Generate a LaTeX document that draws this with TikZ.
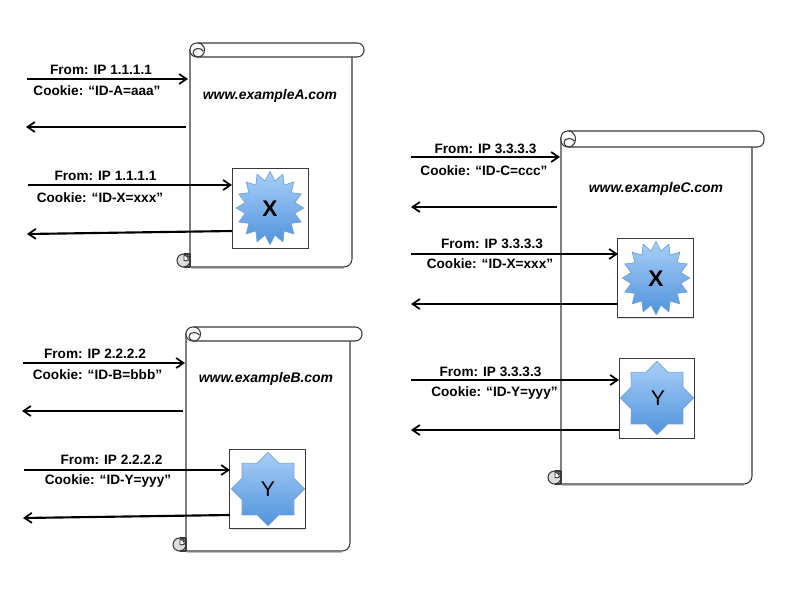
\documentclass[tikz,border=0pt]{standalone}
\usepackage{fontspec}
\setmainfont{Liberation Sans}
\usetikzlibrary{arrows.meta,shapes.geometric,shadows}
\definecolor{edgeC}{HTML}{3A3A3A}
\definecolor{starTop}{HTML}{A9CEF7}
\definecolor{starBot}{HTML}{4F93DD}
\definecolor{starEdge}{HTML}{6FA3DC}
\definecolor{curlC}{HTML}{DDDDDD}
\tikzset{
  x=0.75pt,y=-0.75pt,
  scrollline/.style={draw=edgeC,line width=0.8pt,line join=round},
  scrollshadow/.style={draw=black!25,line width=0.9pt},
  msg/.style={-{Straight Barb[length=5.5pt,width=7.5pt,line width=1.3pt]},line width=1.6pt,black},
  label/.style={font=\bfseries\fontsize{10.2pt}{12pt}\selectfont,inner sep=0pt,text=black,anchor=base},
  site/.style={font=\bfseries\itshape\fontsize{10.45pt}{12pt}\selectfont,inner sep=0pt,anchor=base},
  iconbox/.style={draw=edgeC,fill=white,line width=0.8pt,minimum width=56.5pt,minimum height=59.5pt,inner sep=0pt,outer sep=0pt,
    drop shadow={shadow xshift=0pt,shadow yshift=-0.8pt,opacity=0.25}},
  burst/.style={star,star points=16,star point ratio=1.33,minimum size=55pt,inner sep=0pt,top color=starTop,bottom color=starBot,draw=starEdge,line width=0.5pt,xscale=0.92,transform shape},
  octa/.style={star,star points=8,star point ratio=1.307,minimum size=55pt,inner sep=0pt,top color=starTop,bottom color=starBot,draw=starEdge,line width=0.5pt},
  letterX/.style={font=\bfseries\fontsize{17pt}{17pt}\selectfont,inner sep=0pt},
  letterY/.style={font=\fontsize{16pt}{16pt}\selectfont,inner sep=0pt},
}
% #1 left, #2 top, #3 right, #4 bottom, #5 roll bottom
\newcommand{\scrollpage}[5]{%
  \pgfmathsetmacro{\rr}{(#5-#2)/2}%
  \draw[scrollshadow] (#1+1,#4+1.2) -- (#3-8,#4+1.2);
  % body
  \draw[scrollline,fill=white] (#3,#5) -- (#3,#4-8) .. controls (#3,#4-3.6) and (#3-3.6,#4) .. (#3-8,#4) -- (#1,#4) -- (#1,#2+6);
  % roll
  \draw[scrollline,fill=white,rounded corners=5pt] (#1,#5) rectangle (#3+12,#2);
  \draw[scrollline] (#1+8,#2) .. controls (#1+11.6,#2) and (#1+14.5,#2+\rr-3.8) .. (#1+14.5,#2+\rr)
     .. controls (#1+14.5,#2+\rr+3.8) and (#1+11.6,#5) .. (#1+8,#5)
     .. controls (#1+5,#5) and (#1+3,#5-2) .. (#1+3,#5-4.5)
     .. controls (#1+3,#5-7) and (#1+5,#5-8.5) .. (#1+8,#5-8.5)
     .. controls (#1+10.5,#5-8.5) and (#1+12.5,#5-7.5) .. (#1+13,#5-6);
  % bottom curl
  \draw[scrollline,fill=curlC] (#1-6.5,#4-6.5) circle [radius=6.5];
  \draw[edgeC,line width=0.7pt,fill=white] (#1-6,#4-6.5) -- (#1-6,#4-12) .. controls (#1-3,#4-12) and (#1-1.5,#4-9) .. (#1-1.5,#4-7) .. controls (#1-3,#4-6) and (#1-5,#4-6) .. cycle;
  \fill[white] (#1-6.3,#4-13.8) rectangle (#1-0.6,#4-12.2);
  \draw[scrollline] (#1-6.5,#4-13) -- (#1,#4-13);
  \draw[scrollline] (#1-6.5,#4) -- (#1,#4);
  \draw[scrollline] (#1,#4) -- (#1,#4-13);
}
\begin{document}
\begin{tikzpicture}
\useasboundingbox (0,0) rectangle (792,612);

% ---- scroll A
\scrollpage{190}{43}{352}{267}{57}
\node[site] (titleA) at (270,99) {www.exampleA.com};
\node[iconbox] (boxAX) at (270.5,208.5) {};
\node[burst] (starAX) at (270,208) {};
\node[letterX] (letAX) at (270,209) {X};
\node[label] (a1) at (101,74) {From: IP 1.1.1.1};
\node[label] (a2) at (97,95) {Cookie: “ID-A=aaa”};
\node[label] (a3) at (105.5,180) {From: IP 1.1.1.1};
\node[label] (a4) at (100,202) {Cookie: “ID-X=xxx”};
\coordinate (a1s) at (27,79);  \coordinate (a1e) at (188,79);
\coordinate (a2s) at (186,127); \coordinate (a2e) at (26,127);
\coordinate (a3s) at (28,185); \coordinate (a3e) at (232,185);
\coordinate (a4s) at (232,231); \coordinate (a4e) at (27,234);
\draw[msg] (a1s) -- (a1e);
\draw[msg] (a2s) -- (a2e);
\draw[msg] (a3s) -- (a3e);
\draw[msg] (a4s) -- (a4e);

% ---- scroll B
\scrollpage{186}{327}{350}{551}{341}
\node[site] (titleB) at (266,382) {www.exampleB.com};
\node[iconbox] (boxBY) at (267.5,489) {};
\node[octa] (starBY) at (268,489) {};
\node[letterY] (letBY) at (268,489) {Y};
\node[label] (b1) at (95,358) {From: IP 2.2.2.2};
\node[label] (b2) at (97.5,379) {Cookie: “ID-B=bbb”};
\node[label] (b3) at (111.5,464) {From: IP 2.2.2.2};
\node[label] (b4) at (108,484) {Cookie: “ID-Y=yyy”};
\coordinate (b1s) at (23,363);  \coordinate (b1e) at (185,363);
\coordinate (b2s) at (183,411); \coordinate (b2e) at (22,411);
\coordinate (b3s) at (24,470); \coordinate (b3e) at (230,470);
\coordinate (b4s) at (230,515); \coordinate (b4e) at (23,518);
\draw[msg] (b1s) -- (b1e);
\draw[msg] (b2s) -- (b2e);
\draw[msg] (b3s) -- (b3e);
\draw[msg] (b4s) -- (b4e);

% ---- scroll C
\scrollpage{561}{131}{752}{484}{147}
\node[site] (titleC) at (656,192) {www.exampleC.com};
\node[iconbox] (boxCX) at (655.5,278) {};
\node[burst] (starCX) at (656,278) {};
\node[letterX] (letCX) at (656,279) {X};
\node[iconbox] (boxCY) at (657,398.5) {};
\node[octa] (starCY) at (657,398) {};
\node[letterY] (letCY) at (658,398) {Y};
\node[label] (c1) at (485.5,153) {From: IP 3.3.3.3};
\node[label] (c2) at (484,175) {Cookie: “ID-C=ccc”};
\node[label] (c3) at (492,248) {From: IP 3.3.3.3};
\node[label] (c4) at (490,268) {Cookie: “ID-X=xxx”};
\node[label] (c5) at (490.5,376) {From: IP 3.3.3.3};
\node[label] (c6) at (494.5,396) {Cookie: “ID-Y=yyy”};
\coordinate (c1s) at (411,157); \coordinate (c1e) at (560,157);
\coordinate (c2s) at (557,207); \coordinate (c2e) at (411,207);
\coordinate (c3s) at (411,254); \coordinate (c3e) at (618,254);
\coordinate (c4s) at (618,304); \coordinate (c4e) at (411,304);
\coordinate (c5s) at (411,380); \coordinate (c5e) at (619,380);
\coordinate (c6s) at (619,430); \coordinate (c6e) at (411,430);
\draw[msg] (c1s) -- (c1e);
\draw[msg] (c2s) -- (c2e);
\draw[msg] (c3s) -- (c3e);
\draw[msg] (c4s) -- (c4e);
\draw[msg] (c5s) -- (c5e);
\draw[msg] (c6s) -- (c6e);
\end{tikzpicture}
\end{document}
